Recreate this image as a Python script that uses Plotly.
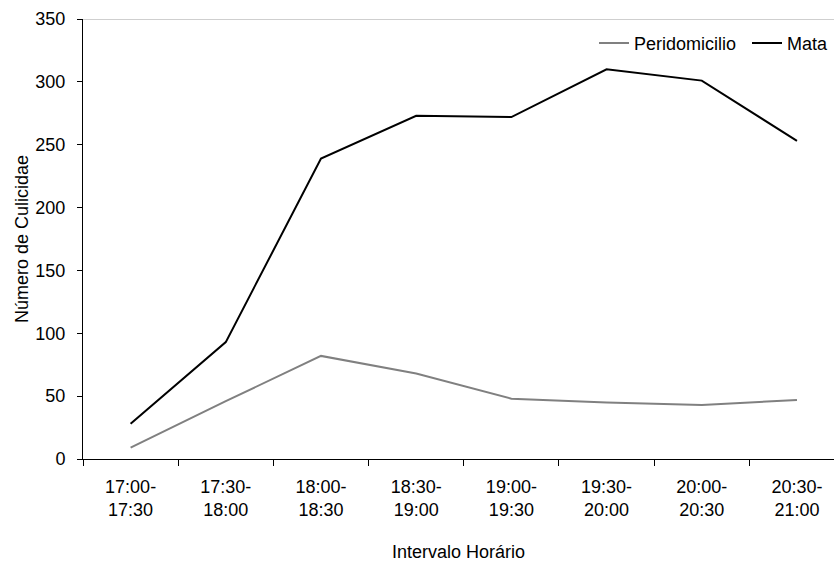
import plotly.graph_objects as go

categories = ["17:00-<br>17:30", "17:30-<br>18:00", "18:00-<br>18:30", "18:30-<br>19:00",
              "19:00-<br>19:30", "19:30-<br>20:00", "20:00-<br>20:30", "20:30-<br>21:00"]
peridomicilio = [9, 46, 82, 68, 48, 45, 43, 47]
mata = [28, 93, 239, 273, 272, 310, 301, 253]
y_ticks = [0, 50, 100, 150, 200, 250, 300, 350]

FONT = "Arial, 'Liberation Sans', sans-serif"

fig = go.Figure()
fig.add_trace(go.Scatter(x=categories, y=peridomicilio, mode="lines", name="Peridomicilio",
                         line=dict(color="#808080", width=2)))
fig.add_trace(go.Scatter(x=categories, y=mata, mode="lines", name="Mata",
                         line=dict(color="#000000", width=2)))

fig.add_shape(type="line", xref="paper", yref="y", x0=0, x1=1, y0=350, y1=350,
              line=dict(color="#a0a0a0", width=1))

fig.update_layout(
    width=834, height=562,
    margin=dict(l=83, r=0, t=19, b=103, autoexpand=False),
    paper_bgcolor="white", plot_bgcolor="white",
    font=dict(family=FONT, size=18, color="#000000"),
    showlegend=True,
    legend=dict(orientation="h", x=(594 - 83) / 751, xanchor="left", y=0.945, yanchor="middle",
                font=dict(size=18), bgcolor="rgba(0,0,0,0)", entrywidth=108, entrywidthmode="pixels"),
    xaxis=dict(type="category", range=[-0.5, 7.389], tickson="boundaries",
               ticks="outside", ticklen=6, tickcolor="black", showline=True, linecolor="black",
               linewidth=1, showgrid=False, zeroline=False,
               title=dict(text="Intervalo Horário", standoff=26, font=dict(size=18)),
               automargin=False, ticklabelstandoff=11),
    yaxis=dict(range=[0, 350], tickvals=y_ticks, ticks="outside", ticklen=5, tickcolor="black",
               showline=True, linecolor="black", linewidth=1, showgrid=False, zeroline=False,
               title=dict(text="Número de Culicidae", standoff=2, font=dict(size=18)),
               automargin=False, ticklabelstandoff=8),
)

fig.write_html("out.html")
